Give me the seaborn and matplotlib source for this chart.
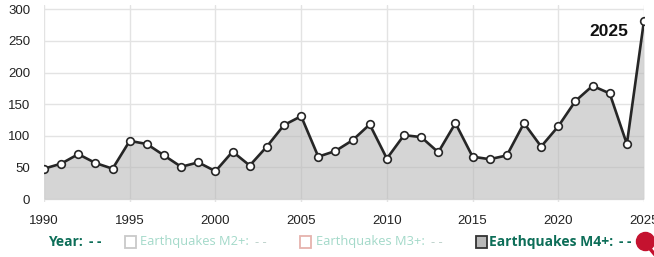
import matplotlib.pyplot as plt
import matplotlib.patches as mpatches
import matplotlib.lines as mlines
import seaborn as sns
import pandas as pd

# ---------------------------------------------------
# Data
# ---------------------------------------------------

years = list(range(1990, 2026))
m4_counts = [48, 56, 71, 57, 48, 92, 87, 69, 51, 58,
             44, 75, 53, 83, 117, 131, 67, 76, 93, 118,
             64, 101, 98, 74, 120, 67, 63, 69, 120, 83,
             115, 155, 179, 167, 87, 282]
x_ticks = [1990, 1995, 2000, 2005, 2010, 2015, 2020, 2025]
y_ticks = [0, 50, 100, 150, 200, 250, 300]
legend_labels = ["Year:", "Earthquakes M2+:", "Earthquakes M3+:", "Earthquakes M4+:"]

df = pd.DataFrame({"year": years, "count": m4_counts})

# ---------------------------------------------------
# Theme
# ---------------------------------------------------

sns.set_theme(style="white")
plt.rcParams["font.family"] = ["Liberation Sans", "DejaVu Sans"]

GRID = "#e3e3e3"
LINE = "#262626"
FILL = "#b4b4b4"
TEAL_DARK = "#0d6e58"
TEAL_LIGHT = "#a3d9c9"
DASH_LIGHT = "#b9cfc8"

fig = plt.figure(figsize=(6.54, 2.57), dpi=100)
ax = fig.add_axes([0.0673, 0.2156, 0.9174, 0.763])

ax.fill_between(df["year"], df["count"], 0, color=FILL, alpha=0.55,
                linewidth=0, zorder=2)
sns.lineplot(data=df, x="year", y="count", ax=ax, color=LINE, linewidth=1.9,
             marker="o", markersize=5.5, markerfacecolor="white",
             markeredgecolor=LINE, markeredgewidth=1.2, zorder=3)

ax.set_xlim(1990, 2025)
ax.set_ylim(-4, 306)
ax.set_xticks(x_ticks)
ax.set_yticks(y_ticks)
ax.grid(True, color=GRID, linewidth=1.0, zorder=0)
ax.set_axisbelow(True)
for s in ax.spines.values():
    s.set_visible(False)
ax.tick_params(axis="both", which="both", length=8, width=1.0, color=GRID,
               labelsize=9.5, labelcolor="#222222", pad=2)
ax.tick_params(axis="x", length=7, pad=3)
ax.set_xlabel("")
ax.set_ylabel("")

ax.text(0.973, 0.865, "2025", transform=ax.transAxes, ha="right", va="center",
        fontsize=12.5, fontweight="bold", color="#111111")

# ---------------------------------------------------
# Legend row (drawn as figure text)
# ---------------------------------------------------

ly = 1 - 242 / 257
W = 654.0
LEG_FONT = ["Open Sans", "DejaVu Sans"]
renderer = fig.canvas.get_renderer()


def box(x, edge, face):
    fig.add_artist(mpatches.Rectangle((x / W, ly - 6 / 257), 11 / W, 12 / 257,
                                      transform=fig.transFigure,
                                      facecolor=face, edgecolor=edge,
                                      linewidth=1.3))


def label(x, s, color, dash_color, bold=False):
    size = 10 if bold else 9.3
    weight = "bold" if bold else "normal"
    t = fig.text(x / W, ly, s, color=color, fontsize=size, family=LEG_FONT,
                 fontweight=weight, va="center")
    x_end = t.get_window_extent(renderer).x1
    fig.text((x_end + 6) / W, ly, "- -", color=dash_color, fontsize=size,
             family=LEG_FONT, fontweight=weight, va="center")


label(48, legend_labels[0], TEAL_DARK, TEAL_DARK, True)

box(125, "#c9c9c9", "white")
label(140, legend_labels[1], TEAL_LIGHT, DASH_LIGHT)

box(300, "#e6b3ae", "white")
label(316, legend_labels[2], TEAL_LIGHT, DASH_LIGHT)

box(476, "#333333", "#b8b8b8")
label(489, legend_labels[3], TEAL_DARK, TEAL_DARK, True)

# red pin at the right edge
fig.add_artist(mlines.Line2D([646 / W, 656 / W], [ly - 2 / 257, ly - 14 / 257],
                             transform=fig.transFigure, color="#c4122f",
                             linewidth=2.5))
fig.add_artist(mlines.Line2D([645 / W], [ly + 1 / 257], marker="o",
                             markersize=13, color="#c4122f",
                             transform=fig.transFigure, linewidth=0))

fig.savefig("out.png", dpi=100)
plt.close(fig)
